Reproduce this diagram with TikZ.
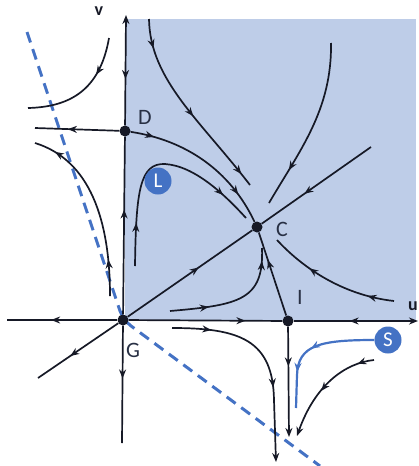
\documentclass[tikz,border=0pt]{standalone}
\usepackage{fontspec}
\setmainfont{Carlito}
\usetikzlibrary{arrows.meta,decorations.markings}
\definecolor{regionblue}{RGB}{190,205,232}
\definecolor{ink}{RGB}{22,25,38}
\definecolor{labelc}{RGB}{40,48,68}
\definecolor{accent}{RGB}{68,114,196}
\tikzset{
  traj/.style={draw=ink, line width=1.7pt},
  arrowat/.style={postaction={decorate,decoration={markings,mark=at position #1 with {\arrow{Stealth[length=9pt,width=7pt]}}}}},
  endarrow/.style={-{Stealth[length=9pt,width=7pt]}},
  startarrow/.style={{Stealth[length=9pt,width=7pt]}-},
  eqpt/.style={circle, fill=ink, inner sep=0pt, minimum size=11pt},
  ptlabel/.style={font=\fontsize{22}{22}\selectfont, text=labelc},
  axlabel/.style={font=\bfseries\fontsize{18}{18}\selectfont, text=ink},
  badge/.style={circle, fill=accent, text=white, inner sep=0pt, minimum size=27pt, font=\fontsize{21}{21}\selectfont},
  sepline/.style={draw=accent, line width=3pt, dash pattern=on 11pt off 7pt},
  sflow/.style={draw=accent, line width=2.2pt},
}
\begin{document}
\begin{tikzpicture}[x=1pt,y=-1pt]
\useasboundingbox (0,0) rectangle (419,466);
\fill[regionblue] (125,19) rectangle (416,320);
% coordinates
\coordinate (gpt) at (123,320);
\coordinate (sepA) at (27,32);
\coordinate (sepB) at (320,466);
\coordinate (vtop) at (126,15);
\coordinate (vbot) at (122,443);
\coordinate (uleft) at (7,320);
\coordinate (uright) at (418,321);
\coordinate (gl) at (38,378);
\coordinate (dl) at (35,128);
\coordinate (cr) at (371,147);
\coordinate (ibot) at (289,437);
% separatrix (dashed)
\draw[sepline, rounded corners=10pt] (sepA) -- (gpt) -- (sepB);
% equilibria
\node[eqpt] (G) at (gpt) {};
\node[eqpt] (D) at (125,131) {};
\node[eqpt] (C) at (257,227) {};
\node[eqpt] (I) at (288,321) {};
% axes
\draw[traj, startarrow, arrowat=0.58] (vtop) -- (D);
\draw[traj, arrowat=0.59] (G) -- (D);
\draw[traj, arrowat=0.45] (G) -- (vbot);
\draw[traj, arrowat=0.6] (G) -- (uleft);
\draw[traj, arrowat=0.76] (G) -- (I);
\draw[traj, startarrow, arrowat=0.55] (uright) -- (I);
\draw[traj, arrowat=0.6] (G) -- (gl);
\draw[traj, arrowat=0.61] (D) -- (dl);
% through C
\draw[traj, arrowat=0.57] (G) -- (C);
\draw[traj, arrowat=0.61] (cr) -- (C);
\draw[traj, arrowat=0.67] (I) -- (C);
\draw[traj, arrowat=0.15, arrowat=0.8] (D) .. controls (185,140) and (230,170) .. (C);
% other trajectories
\coordinate (a1) at (109,38); \coordinate (a2) at (28,108);
\draw[traj, arrowat=0.33] (a1) .. controls (100,90) and (70,107) .. (a2);
\coordinate (b1) at (110,296); \coordinate (b2) at (35,143);
\draw[traj, arrowat=0.2, arrowat=0.88] (b1) .. controls (110,220) and (90,160) .. (b2);
\coordinate (c1) at (149,19); \coordinate (c2) at (250,185);
\draw[traj, arrowat=0.15, arrowat=0.55, arrowat=0.93] (c1) .. controls (150,80) and (200,120) .. (c2);
\coordinate (l1) at (135,266); \coordinate (l2) at (165,164); \coordinate (l3) at (246,218);
\draw[traj, arrowat=0.2, arrowat=0.85] (l1) .. controls (136,190) and (140,163) .. (l2) .. controls (195,166) and (225,195) .. (l3);
\coordinate (e1) at (331,43); \coordinate (e2) at (269,203);
\draw[traj, arrowat=0.78] (e1) .. controls (332,110) and (300,150) .. (e2);
\coordinate (f1) at (394,301); \coordinate (f2) at (277,240);
\draw[traj, arrowat=0.2, arrowat=0.68] (f1) .. controls (340,295) and (300,265) .. (f2);
\coordinate (h1) at (170,311); \coordinate (h2) at (262,248);
\draw[traj, arrowat=0.3, arrowat=0.9] (h1) .. controls (240,305) and (264,300) .. (h2);
\coordinate (k1) at (172,328); \coordinate (k2) at (274,400); \coordinate (k3) at (276,462);
\draw[traj, endarrow, arrowat=0.19, arrowat=0.64] (k1) .. controls (240,328) and (273,340) .. (k2) -- (k3);
\draw[traj, endarrow, arrowat=0.36] (I) -- (ibot);
\coordinate (m1) at (374,360); \coordinate (m2) at (297,436);
\draw[traj, endarrow, arrowat=0.15, arrowat=0.55] (m1) .. controls (345,363) and (315,385) .. (m2);
% labels
\node[ptlabel] (Dl) at (145,117) {D};
\node[ptlabel] (Cl) at (282,229) {C};
\node[ptlabel] (Gl) at (133,350) {G};
\node[ptlabel] (Il) at (300,297) {I};
\node[axlabel] (vl) at (99,11) {v};
\node[axlabel, anchor=east, inner sep=1pt] (ul) at (419,306) {u};
% badges
\node[badge] (L) at (158,181) {L};
\node[badge] (S) at (388,340) {S};
\coordinate (s2) at (296,408);
\draw[sflow, arrowat=0.5, arrowat=0.72] (S.west) .. controls (320,340) and (298,345) .. (297,375) -- (s2);
\end{tikzpicture}
\end{document}
